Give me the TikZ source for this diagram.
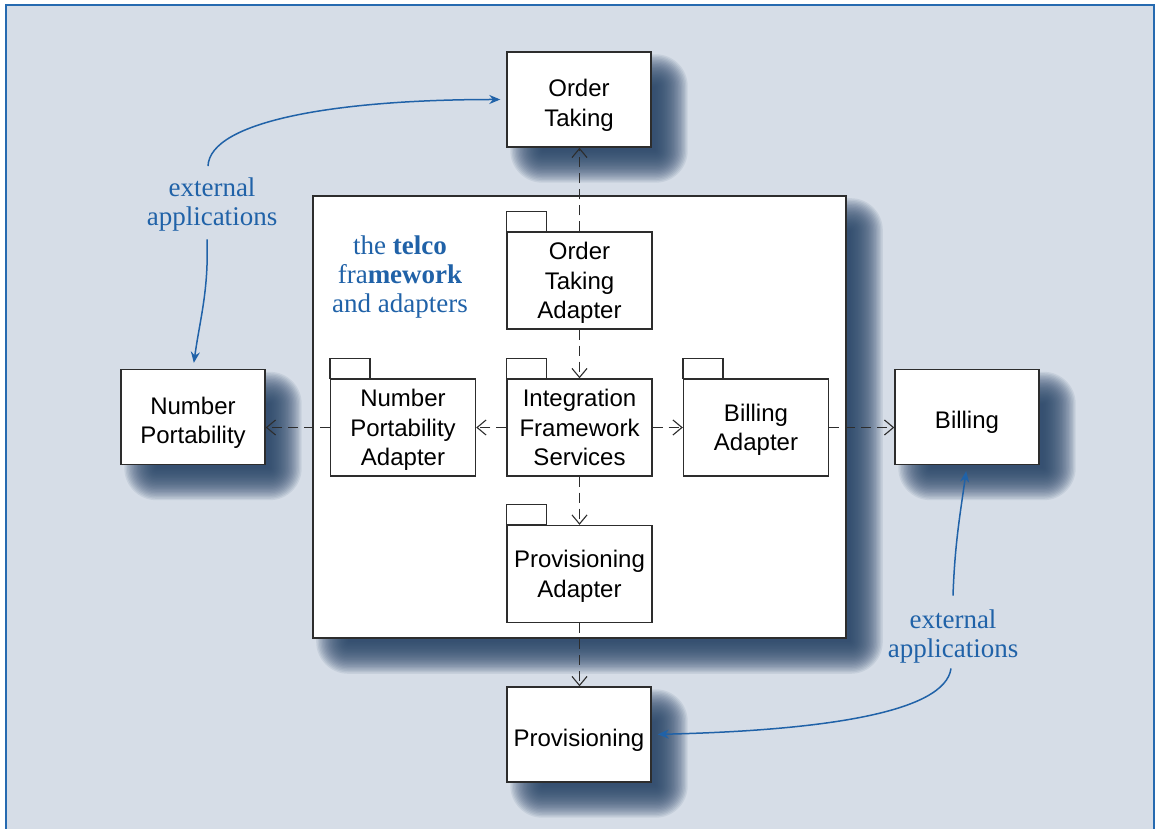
\documentclass[tikz,border=0pt]{standalone}
\usepackage{fontspec}
\setmainfont{Liberation Serif}
\setsansfont{Liberation Sans}
\usetikzlibrary{arrows.meta,backgrounds}

\definecolor{framebg}{RGB}{214,221,231}
\definecolor{frameblue}{RGB}{38,106,176}
\definecolor{noteblue}{RGB}{32,98,168}
\definecolor{shadowblue}{RGB}{40,70,105}
\definecolor{boxline}{RGB}{45,45,45}

% blurred drop shadow behind a named node
\newcommand{\dropshadow}[1]{%
  \foreach \k in {0,...,23} {%
    \pgfmathsetmacro{\e}{16-32*\k/23}%
    \pgfmathsetmacro{\rc}{max(16+\e,1)}%
    \pgfmathsetmacro{\xa}{20-\e}\pgfmathsetmacro{\ya}{-19-\e}%
    \pgfmathsetmacro{\xb}{20+\e}\pgfmathsetmacro{\yb}{-19+\e}%
    \fill[shadowblue, opacity=0.09, rounded corners=\rc pt]
      ([shift={(\xa,\ya)}]#1.south west) rectangle ([shift={(\xb,\yb)}]#1.north east);
  }%
}

\tikzset{
  boxbase/.style={draw=boxline, line width=1.4pt, fill=white, inner sep=0pt,
    align=center, font=\sffamily\fontsize{24}{29.5}\selectfont, text depth=0pt},
  extbox/.style={boxbase, minimum width=144pt, minimum height=95pt},
  pkgbox/.style={boxbase, minimum width=145pt, minimum height=97pt},
  oneline/.style={text height=24pt},
  twolines/.style={text height=53.5pt},
  fwbox/.style={draw=boxline, line width=1.6pt, fill=white,
    minimum width=533pt, minimum height=442pt},
  pkgtab/.style={draw=boxline, line width=1.4pt},
  note/.style={text=noteblue, align=center, inner sep=8pt,
    font=\fontsize{27}{29}\selectfont},
  dep/.style={draw=boxline, line width=1.1pt, dash pattern=on 10pt off 6pt,
    -{Straight Barb[length=9pt,width=15pt,line width=1.1pt]}},
  ext/.style={draw=noteblue, line width=1.5pt, shorten >=6pt,
    -{Stealth[length=11pt,width=9pt]}}
}

\begin{document}
\begin{tikzpicture}[x=1pt, y=1pt]
    \useasboundingbox (0,0) rectangle (1156,828);

    % External applications
    \node[extbox, twolines] (ot) at (579,728.5) {Order\\Taking};
    \node[extbox, twolines] (np) at (193,411) {Number\\Portability};
    \node[extbox, oneline] (bil) at (967,411) {Billing};
    \node[extbox, oneline] (prov) at (579,93.5) {Provisioning};

    % Framework and adapters
    \node[fwbox] (fw) at (579.5,411) {};
    \node[pkgbox] (ota) at (579.5,547.5) {Order\\Taking\\Adapter};
    \node[pkgbox] (npa) at (403,400.5) {Number\\Portability\\Adapter};
    \node[pkgbox] (ifs) at (579.5,400.5) {Integration\\Framework\\Services};
    \node[pkgbox] (ba) at (756,400.5) {Billing\\Adapter};
    \node[pkgbox] (pa) at (579.5,254) {Provisioning\\Adapter};
    \foreach \p in {ota,npa,ifs,ba,pa}
        \draw[pkgtab] (\p.north west) rectangle ++(40,20);

    % Labels
    \node[note] (fwlabel) at (400,551) {the \textbf{telco}\\fra\textbf{mework}\\and adapters};
    \node[note] (extl) at (212,623.5) {external\\applications};
    \node[note] (extr) at (953,191.5) {external\\applications};

    % Dependencies
    \draw[dep] (ota.north) -- (ota.north |- ot.south);
    \draw[dep] (ota.south) -- (ota.south |- ifs.north);
    \draw[dep] (ifs.west) -- (npa.east);
    \draw[dep] (npa.west) -- (npa.west -| np.east);
    \draw[dep] (ifs.east) -- (ba.west);
    \draw[dep] (ba.east) -- (ba.east -| bil.west);
    \draw[dep] (ifs.south) -- (pa.north);
    \draw[dep] (pa.south) -- (pa.south |- prov.north);

    % Pointers from the labels
    \draw[ext] ([shift={(-4,3.5)}]extl.north) .. controls +(2,45) and +(-170,0) .. (ot.west);
    \draw[ext] ([xshift=-5pt]extl.south) to[out=-88,in=82] (np.north);
    \draw[ext] ([yshift=6pt]extr.north) to[out=88,in=-98] (bil.south);
    \draw[ext] ([shift={(-2,3)}]extr.south) .. controls +(-6,-44) and +(172,4) .. (prov.east);

    % Frame and shadows
    \begin{scope}[on background layer]
        \fill[framebg] (6,-20) rectangle (1154,823);
        \draw[frameblue, line width=2.5pt] (6,-20) rectangle (1154,823);
        \dropshadow{fw}
        \dropshadow{ot}
        \dropshadow{np}
        \dropshadow{bil}
        \dropshadow{prov}
    \end{scope}
\end{tikzpicture}
\end{document}
